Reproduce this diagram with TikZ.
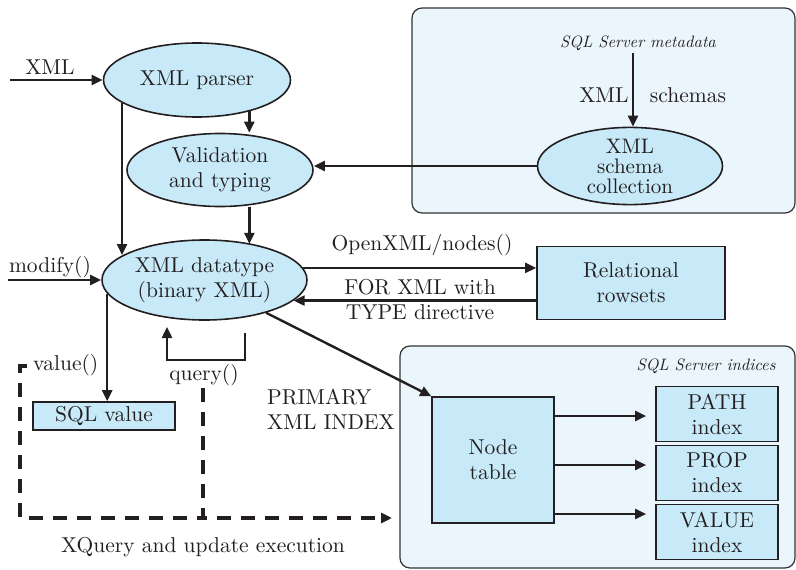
\documentclass[tikz,border=0pt]{standalone}
\usepackage{fontspec}
\setmainfont{lmroman10-regular.otf}[ItalicFont=lmroman10-italic.otf, BoldFont=lmroman10-bold.otf]
\usetikzlibrary{shapes.geometric,arrows.meta,positioning}

\definecolor{nodeblue}{RGB}{200,234,248}
\definecolor{panelblue}{RGB}{234,246,252}
\definecolor{inkgray}{RGB}{35,31,32}
\newcommand{\mainsize}{\fontsize{21.5}{25}\selectfont}
\newcommand{\notesize}{\fontsize{16.5}{19}\selectfont\itshape}

\tikzset{
	oval/.style={ellipse, draw, line width=1.6pt, fill=nodeblue, inner sep=0pt, align=center, font=\mainsize},
	boxnode/.style={rectangle, draw, line width=1.6pt, fill=nodeblue, inner sep=0pt, align=center, font=\mainsize},
	panel/.style={draw=black!80, rounded corners=10pt, fill=panelblue, line width=1.2pt},
	arr/.style={-{Triangle[length=11pt,width=10pt]}, line width=2.4pt},
	dasharr/.style={line width=3.2pt, dash pattern=on 14pt off 10pt},
	lbl/.style={inner sep=0pt, font=\mainsize},
	note/.style={inner sep=0pt, font=\notesize},
}

\begin{document}
\begin{tikzpicture}[x=1pt, y=-1pt, color=inkgray]
	\useasboundingbox (0,0) rectangle (796,570);
	
	% Hai khung nền
	\draw[panel] (412,8) rectangle (795,213);
	\draw[panel] (400,346) rectangle (795,568);
	\node[note] (meta) at (638,43) {SQL Server metadata};
	\node[note] (indices) at (706,366) {SQL Server indices};
	
	% Các nút hình elip
	\node[oval, minimum width=187pt, minimum height=74pt] (parser) at (197,80) {XML parser};
	\node[oval, minimum width=186pt, minimum height=73pt] (valid) at (220,170) {Validation\\and typing};
	\node[oval, minimum width=205pt, minimum height=80pt] (data) at (204.5,280) {XML datatype\\(binary XML)};
	\node[oval, minimum width=185pt, minimum height=73pt, font=\fontsize{21}{20}\selectfont] (schema) at (630,166) {XML\\schema\\collection};
	
	% Các nút hình chữ nhật
	\node[boxnode, minimum width=188pt, minimum height=73pt] (rows) at (631,283) {Relational\\rowsets};
	\node[boxnode, minimum width=142pt, minimum height=28pt] (sqlval) at (104,416) {SQL value};
	\node[boxnode, minimum width=122pt, minimum height=126pt] (ntable) at (493,460) {Node\\table};
	\node[boxnode, minimum width=122pt, minimum height=55pt] (path) at (717,414) {PATH\\index};
	\node[boxnode, minimum width=122pt, minimum height=55pt] (prop) at (717,473) {PROP\\index};
	\node[boxnode, minimum width=122pt, minimum height=55pt] (vindex) at (717,532) {VALUE\\index};
	
	% Nhãn chữ
	\node[lbl] (xmlin) at (50,67) {XML};
	\node[lbl] (modify) at (50,267) {modify()};
	\node[lbl, anchor=west] (value) at (33,365) {value()};
	\node[lbl] (query) at (204,375) {query()};
	\node[lbl, align=left] (primary) at (331,409) {PRIMARY\\XML INDEX};
	\node[lbl] (openxml) at (422,245) {OpenXML/nodes()};
	\node[lbl, align=center] (forxml) at (420,300) {FOR XML with\\TYPE directive};
	\node[lbl] (xschema) at (604,95) {XML};
	\node[lbl] (schemas) at (688,95) {schemas};
	\node[lbl] (xquery) at (203,547) {XQuery and update execution};
	
	% Điểm mút tự do
	\coordinate (xmlstart) at (10,80);
	\coordinate (modstart) at (8,280);
	\coordinate (metatop) at (633,53);
	\coordinate (qa) at (245,333);
	\coordinate (qloop) at (167,360);
	\coordinate (qb) at (167,327);
	\coordinate (dv1) at (27,366);
	\coordinate (dv2) at (20,518);
	\coordinate (dq) at (203,388);
	\coordinate (dend) at (392,518);
	
	% Các mũi tên
	\draw[arr] (xmlstart) -- (parser.west);
	\draw[arr] (modstart) -- (data.west);
	\draw[arr] (parser.197) -- (parser.197 |- data.163);
	\draw[arr] (parser.329) -- (parser.329 |- valid.north);
	\draw[arr] (parser.329 |- valid.south) -- (parser.329 |- data.37);
	\draw[arr] (schema.west) -- (valid.east |- schema.west);
	\draw[arr] (metatop) -- (metatop |- schema.north);
	\draw[arr] (data.7) -- (data.7 -| rows.west);
	\draw[arr] (rows.west |- data.-13) -- (data.-13);
	\draw[arr] (data.-28) -- (ntable.north west);
	\draw[arr] (data.-172) -- (data.-172 |- sqlval.north);
	\draw[arr] (qa) |- (qloop) -- (qb);
	\draw[arr, shorten >=9pt] ([yshift=44pt]ntable.east) -- ([yshift=44pt]ntable.east -| path.west);
	\draw[arr, shorten >=9pt] ([yshift=-5pt]ntable.east) -- ([yshift=-5pt]ntable.east -| prop.west);
	\draw[arr, shorten >=9pt] ([yshift=-54pt]ntable.east) -- ([yshift=-54pt]ntable.east -| vindex.west);
	
	% Đường nét đứt
	\draw[dasharr] (dv1) -| (dv2) -- (dv2 -| dq);
	\draw[dasharr, -{Triangle[length=11pt,width=10pt]}] (dq) -- (dq |- dend) -- (dend);
	
\end{tikzpicture}
\end{document}
